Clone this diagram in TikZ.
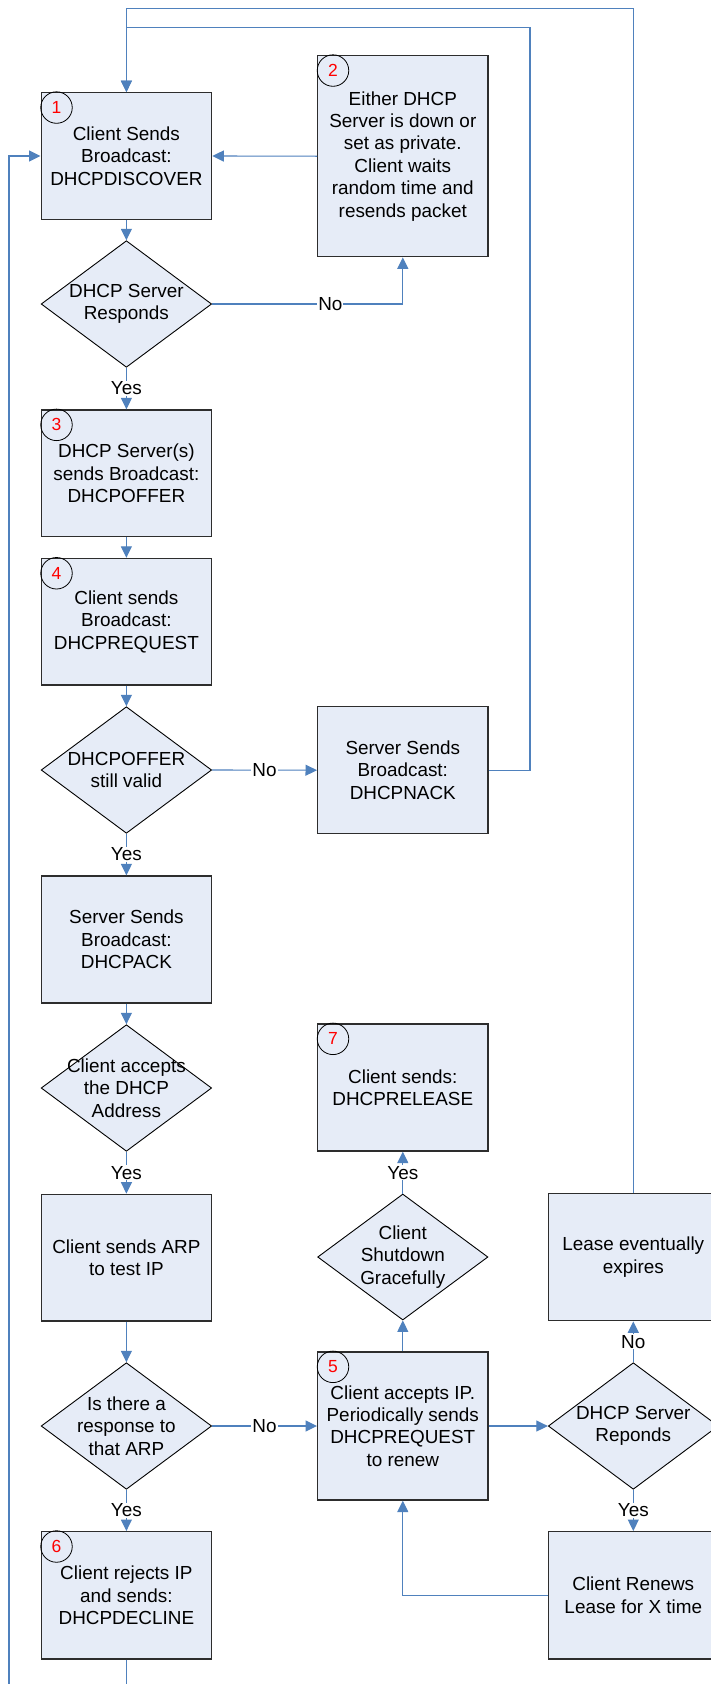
\documentclass[tikz,border=0pt]{standalone}
\usepackage{fontspec}
\setmainfont{Liberation Sans}
\usetikzlibrary{arrows.meta,shapes.geometric,calc}
\definecolor{lnblue}{RGB}{79,129,189}
\definecolor{boxfill}{RGB}{230,236,247}
\definecolor{boxline}{RGB}{45,45,45}
\begin{document}
\begin{tikzpicture}[x=1pt,y=-1pt,
  every node/.style={font=\fontsize{18.9}{22.4}\selectfont},
  proc/.style={draw=boxline,line width=1.3pt,fill=boxfill,minimum width=170.5pt,minimum height=126.6pt,inner sep=0pt,align=center},
  dec/.style={draw=black,line width=0.9pt,fill=boxfill,diamond,minimum width=170.5pt,minimum height=126.6pt,inner sep=0pt},
  dtext/.style={align=center,inner sep=0pt},
  numc/.style={circle,draw=black,line width=0.8pt,minimum size=31.5pt,inner sep=0pt,text=red,font=\fontsize{17.5}{19}\selectfont},
  conn/.style={draw=lnblue,line width=1.1pt},
  arr/.style={conn,-{Triangle[length=11.5pt,width=11pt]}},
  lab/.style={fill=white,inner sep=1pt}
]
\useasboundingbox[fill=white] (0,0) rectangle (710,1684);

% left column
\node[proc] (b1) at (126.4,156) {Client Sends\\Broadcast:\\DHCPDISCOVER};
\node[dec] (d1) at (126.4,304) {};
\node[dtext] (d1t) at (d1) {DHCP Server\\Responds};
\node[proc] (b3) at (126.4,473.3) {DHCP Server(s)\\sends Broadcast:\\DHCPOFFER};
\node[proc] (b4) at (126.4,621.7) {Client sends\\Broadcast:\\DHCPREQUEST};
\node[dec] (d2) at (126.4,770) {};
\node[dtext] (d2t) at (d2) {DHCPOFFER\\still valid};
\node[proc,minimum height=127pt] (b8) at (126.4,939.5) {Server Sends\\Broadcast:\\DHCPACK};
\node[dec] (d3) at (126.4,1088) {};
\node[dtext] (d3t) at (d3) {Client accepts\\the DHCP\\Address};
\node[proc] (b9) at (126.4,1257.6) {Client sends ARP\\to test IP};
\node[dec] (d4) at (126.4,1426) {};
\node[dtext] (d4t) at (d4) {Is there a\\response to\\that ARP};
\node[proc,minimum height=127.3pt] (b6) at (126.4,1595.3) {Client rejects IP\\and sends:\\DHCPDECLINE};

% middle column
\node[proc,minimum width=170.3pt,minimum height=201pt] (b2) at (402.8,156.2) {Either DHCP\\Server is down or\\set as private.\\Client waits\\random time and\\resends packet};
\node[proc,minimum width=170.3pt,minimum height=127pt] (bN) at (402.8,770.2) {Server Sends\\Broadcast:\\DHCPNACK};
\node[proc,minimum width=170.3pt,minimum height=127pt] (b7) at (402.8,1087.5) {Client sends:\\DHCPRELEASE};
\node[dec,minimum width=170.3pt,minimum height=126pt] (d5) at (402.8,1257) {};
\node[dtext] (d5t) at (d5) {Client\\Shutdown\\Gracefully};
\node[proc,minimum width=170.3pt,minimum height=148pt] (b5) at (402.8,1426) {Client accepts IP.\\Periodically sends\\DHCPREQUEST\\to renew};

% right column
\node[proc,minimum width=170pt,minimum height=127.4pt] (bL) at (633.3,1257) {Lease eventually\\expires};
\node[dec,minimum width=170pt] (d6) at (633.3,1426) {};
\node[dtext] (d6t) at (d6) {DHCP Server\\Reponds};
\node[proc,minimum width=170pt,minimum height=127.3pt] (bR) at (633.3,1595.3) {Client Renews\\Lease for X time};

% number circles
\node[numc] (n1) at ($(b1.north west)+(16,15.5)$) {1};
\node[numc] (n2) at ($(b2.north west)+(16,15.5)$) {2};
\node[numc] (n3) at ($(b3.north west)+(16,15.5)$) {3};
\node[numc] (n4) at ($(b4.north west)+(16,15.5)$) {4};
\node[numc] (n5) at ($(b5.north west)+(16,15.5)$) {5};
\node[numc] (n6) at ($(b6.north west)+(16,15.5)$) {6};
\node[numc] (n7) at ($(b7.north west)+(16,15.5)$) {7};

% helper coordinates
\coordinate (c1) at (633.3,8.3);
\coordinate (c2) at (530,27.3);
\coordinate (c3) at (9,1700);

% connectors
\draw[arr] (b1.south) -- (d1.north);
\draw[arr] (d1.south) -- node[lab]{Yes} (b3.north);
\draw[arr] (d1.east) -| node[lab,pos=0.31]{No} (b2.south);
\draw[arr] (b2.west) -- (b1.east);
\draw[arr] (b3.south) -- (b4.north);
\draw[arr] (b4.south) -- (d2.north);
\draw[arr] (d2.east) -- node[lab]{No} (bN.west);
\draw[arr] (d2.south) -- node[lab]{Yes} (b8.north);
\draw[arr] (bN.east) -| (c2) -| (b1.north);
\draw[arr] (b8.south) -- (d3.north);
\draw[arr] (d3.south) -- node[lab]{Yes} (b9.north);
\draw[arr] (b9.south) -- (d4.north);
\draw[arr] (d4.south) -- node[lab]{Yes} (b6.north);
\draw[arr] (d4.east) -- node[lab]{No} (b5.west);
\draw[arr] (b5.north) -- (d5.south);
\draw[arr] (d5.north) -- node[lab]{Yes} (b7.south);
\draw[arr] (b5.east) -- (d6.west);
\draw[arr] (d6.north) -- node[lab]{No} (bL.south);
\draw[arr] (d6.south) -- node[lab]{Yes} (bR.north);
\draw[arr] (bR.west) -| (b5.south);
\draw[arr] (bL.north) -- (c1) -| (b1.north);
\draw[arr] (b6.south) |- (c3) |- (b1.west);
\end{tikzpicture}
\end{document}
